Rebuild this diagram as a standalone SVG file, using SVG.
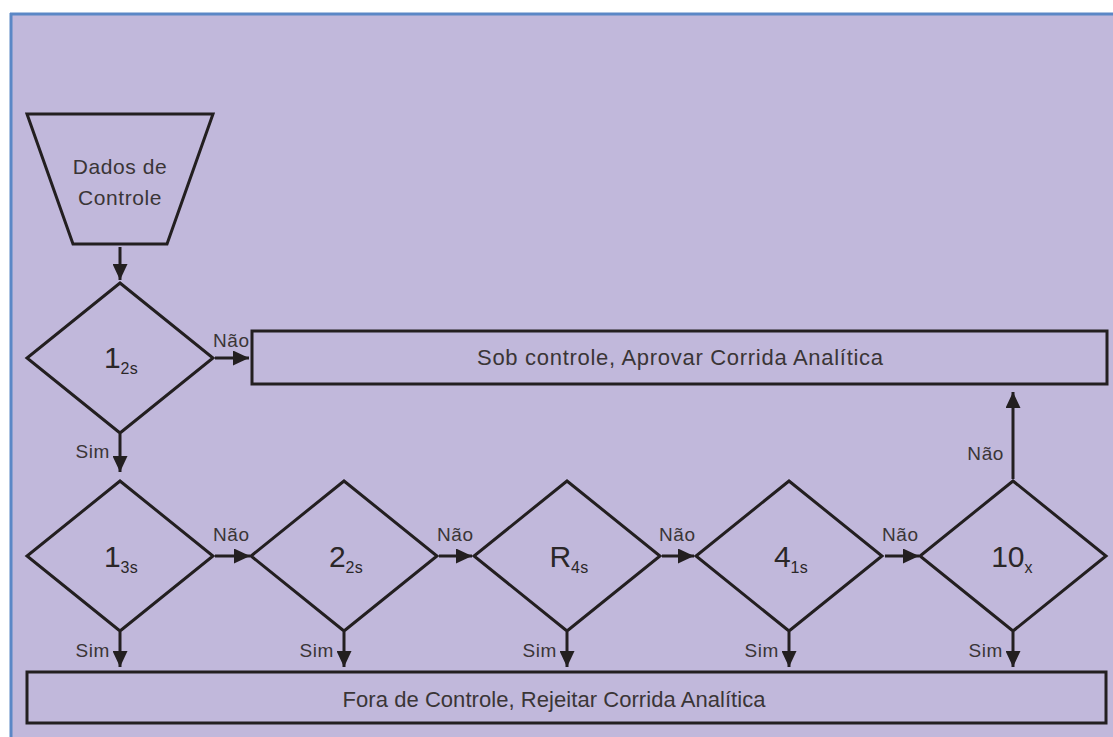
<svg xmlns="http://www.w3.org/2000/svg" width="1113" height="737" viewBox="0 0 1113 737">
  <defs>
    <style>
      .shape { fill: none; stroke: #231f20; stroke-width: 3; stroke-linejoin: miter; }
      .wire { fill: none; stroke: #231f20; stroke-width: 3; }
      .lbl { font-family: "Liberation Sans", Arial, sans-serif; font-size: 19px; fill: #3a3536; letter-spacing: 0.6px; }
      .big { font-family: "Liberation Sans", Arial, sans-serif; font-size: 30px; fill: #2b2728; text-anchor: middle; }
      .sub { font-size: 16px; letter-spacing: 0.3px; }
      .box { font-family: "Liberation Sans", Arial, sans-serif; font-size: 22px; fill: #3a3536; text-anchor: middle; }
    </style>
    <marker id="head" markerUnits="userSpaceOnUse" markerWidth="17" markerHeight="15" refX="16" refY="7.5" orient="auto">
      <path d="M0,0 L16,7.5 L0,15 Z" fill="#231f20"/>
    </marker>
  </defs>

  <!-- page -->
  <rect x="0" y="0" width="1113" height="737" fill="#ffffff"/>
  <rect x="11" y="14" width="1102" height="723" fill="#c1b8db"/>
  <line x1="10" y1="14" x2="1113" y2="14" stroke="#5b87c6" stroke-width="3"/>
  <line x1="11" y1="13" x2="11" y2="737" stroke="#5b87c6" stroke-width="3"/>

  <!-- connectors -->
  <g id="connectors">
    <path class="wire" d="M120,247 V280" marker-end="url(#head)"/>
    <path class="wire" d="M215,358 H249" marker-end="url(#head)"/>
    <path class="wire" d="M120,434 V472" marker-end="url(#head)"/>
    <path class="wire" d="M215,556 H250" marker-end="url(#head)"/>
    <path class="wire" d="M439,556 H472" marker-end="url(#head)"/>
    <path class="wire" d="M662,556 H694" marker-end="url(#head)"/>
    <path class="wire" d="M885,556 H919" marker-end="url(#head)"/>
    <path class="wire" d="M1013,479 V392" marker-end="url(#head)"/>
    <path class="wire" d="M120,632 V667" marker-end="url(#head)"/>
    <path class="wire" d="M344,632 V667" marker-end="url(#head)"/>
    <path class="wire" d="M567,632 V667" marker-end="url(#head)"/>
    <path class="wire" d="M789,632 V667" marker-end="url(#head)"/>
    <path class="wire" d="M1013,632 V667" marker-end="url(#head)"/>
    <text class="lbl" x="213" y="347">Não</text>
    <text class="lbl" x="110" y="458" text-anchor="end">Sim</text>
    <text class="lbl" x="213" y="541">Não</text>
    <text class="lbl" x="437" y="541">Não</text>
    <text class="lbl" x="659" y="541">Não</text>
    <text class="lbl" x="882" y="541">Não</text>
    <text class="lbl" x="1004" y="460" text-anchor="end">Não</text>
    <text class="lbl" x="110" y="657" text-anchor="end">Sim</text>
    <text class="lbl" x="334" y="657" text-anchor="end">Sim</text>
    <text class="lbl" x="557" y="657" text-anchor="end">Sim</text>
    <text class="lbl" x="779" y="657" text-anchor="end">Sim</text>
    <text class="lbl" x="1003" y="657" text-anchor="end">Sim</text>
  </g>

  <!-- input data -->
  <g id="dados">
    <path class="shape" d="M27,114 H213 L167,244 H73 Z"/>
    <text class="lbl" x="120" y="174" text-anchor="middle" style="font-size:21px">Dados de</text>
    <text class="lbl" x="120" y="205" text-anchor="middle" style="font-size:21px">Controle</text>
  </g>

  <!-- rule 1-2s -->
  <g id="r12s">
    <path class="shape" d="M120,283 L213,358 L120,433 L27,358 Z"/>
    <text class="big" x="121" y="368">1<tspan class="sub" dy="6">2s</tspan></text>
  </g>

  <!-- approve -->
  <g id="aprovar">
    <rect class="shape" x="252" y="331" width="855" height="53"/>
    <text class="box" x="680" y="365" textLength="406" lengthAdjust="spacing">Sob controle, Aprovar Corrida Analítica</text>
  </g>

  <!-- rule 1-3s -->
  <g id="r13s">
    <path class="shape" d="M120,481 L213,556 L120,631 L27,556 Z"/>
    <text class="big" x="121" y="567">1<tspan class="sub" dy="6">3s</tspan></text>
  </g>

  <!-- rule 2-2s -->
  <g id="r22s">
    <path class="shape" d="M344,481 L437,556 L344,631 L251,556 Z"/>
    <text class="big" x="346" y="567">2<tspan class="sub" dy="6">2s</tspan></text>
  </g>

  <!-- rule R-4s -->
  <g id="rR4s">
    <path class="shape" d="M567,481 L660,556 L567,631 L474,556 Z"/>
    <text class="big" x="569" y="567">R<tspan class="sub" dy="6">4s</tspan></text>
  </g>

  <!-- rule 4-1s -->
  <g id="r41s">
    <path class="shape" d="M789,481 L882,556 L789,631 L696,556 Z"/>
    <text class="big" x="791" y="567">4<tspan class="sub" dy="6">1s</tspan></text>
  </g>

  <!-- rule 10-x -->
  <g id="r10x">
    <path class="shape" d="M1013,481 L1106,556 L1013,631 L920,556 Z"/>
    <text class="big" x="1012" y="567">10<tspan class="sub" dy="6">x</tspan></text>
  </g>

  <!-- reject -->
  <g id="rejeitar">
    <rect class="shape" x="27" y="672" width="1079" height="51"/>
    <text class="box" x="554" y="707" textLength="423" lengthAdjust="spacing">Fora de Controle, Rejeitar Corrida Analítica</text>
  </g>
</svg>
